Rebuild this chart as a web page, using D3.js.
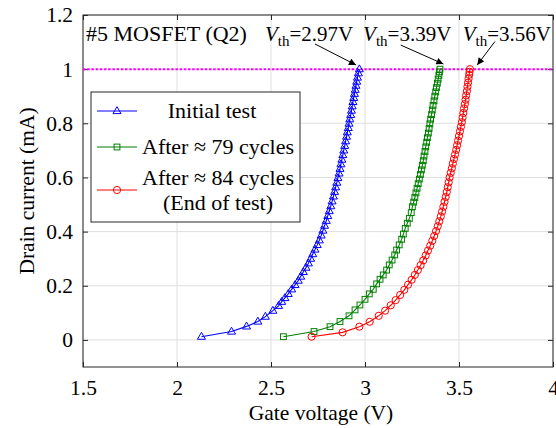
<!DOCTYPE html>
<html>
<head>
<meta charset="utf-8">
<script src="https://cdn.jsdelivr.net/npm/d3@7/dist/d3.min.js"></script>
<style>
  html, body { margin: 0; padding: 0; background: #fff; }
  svg { display: block; }
  text { font-family: "Liberation Serif", "Times New Roman", serif; fill: #000; }
</style>
</head>
<body>
<svg id="chart" width="556" height="428"></svg>
<script>
// ---------- DATA ----------
const xTicks = [1.5, 2, 2.5, 3, 3.5, 4];
const yTicks = [0, 0.2, 0.4, 0.6, 0.8, 1, 1.2];
const xTickLabels = ["1.5", "2", "2.5", "3", "3.5", "4"];
const yTickLabels = ["0", "0.2", "0.4", "0.6", "0.8", "1", "1.2"];

const seriesNames = ["Initial test", "After \u2248 79 cycles", "After \u2248 84 cycles"];
const seriesNote = "(End of test)";

// Initial test (blue triangles): gate voltage (V), drain current (mA)
const initialV = [2.13, 2.29, 2.37, 2.43, 2.47, 2.51, 2.54, 2.557, 2.574, 2.592,
  2.61, 2.628, 2.645, 2.658, 2.672, 2.686, 2.699, 2.711, 2.722, 2.734,
  2.746, 2.757, 2.767, 2.776, 2.785, 2.794, 2.802, 2.810, 2.818, 2.825,
  2.832, 2.838, 2.844, 2.850, 2.856, 2.862, 2.867, 2.872, 2.877, 2.882,
  2.887, 2.892, 2.897, 2.902, 2.906, 2.911, 2.915, 2.919, 2.924, 2.928,
  2.932, 2.936, 2.940, 2.944, 2.948, 2.952, 2.956, 2.960, 2.965, 2.970];
const initialI = [0.012, 0.031, 0.050, 0.068, 0.086, 0.108, 0.126, 0.141, 0.155, 0.170,
  0.187, 0.203, 0.219, 0.234, 0.251, 0.267, 0.283, 0.300, 0.317, 0.334,
  0.351, 0.368, 0.386, 0.404, 0.422, 0.440, 0.458, 0.476, 0.494, 0.512,
  0.530, 0.547, 0.564, 0.581, 0.598, 0.615, 0.632, 0.649, 0.666, 0.683,
  0.700, 0.717, 0.734, 0.751, 0.767, 0.783, 0.799, 0.815, 0.831, 0.847,
  0.863, 0.879, 0.894, 0.909, 0.924, 0.939, 0.954, 0.969, 0.985, 1.000];

// After ~79 cycles (green squares)
const after79V = [2.566, 2.729, 2.814, 2.867, 2.915, 2.947, 2.973, 3.000, 3.023, 3.044,
  3.062, 3.080, 3.097, 3.115, 3.129, 3.144, 3.158, 3.168, 3.182, 3.195,
  3.204, 3.214, 3.225, 3.236, 3.246, 3.252, 3.259, 3.265, 3.271, 3.277,
  3.283, 3.289, 3.295, 3.300, 3.305, 3.310, 3.314, 3.319, 3.323, 3.328,
  3.332, 3.337, 3.341, 3.345, 3.349, 3.354, 3.358, 3.362, 3.367, 3.371,
  3.376, 3.380, 3.385, 3.389, 3.393, 3.396, 3.399];
const after79I = [0.012, 0.031, 0.049, 0.068, 0.089, 0.111, 0.129, 0.150, 0.170, 0.187,
  0.207, 0.224, 0.240, 0.258, 0.277, 0.295, 0.314, 0.332, 0.351, 0.372,
  0.391, 0.412, 0.431, 0.449, 0.470, 0.492, 0.509, 0.526, 0.543, 0.560,
  0.577, 0.594, 0.611, 0.628, 0.645, 0.662, 0.679, 0.696, 0.713, 0.730,
  0.747, 0.764, 0.781, 0.798, 0.815, 0.832, 0.849, 0.866, 0.883, 0.900,
  0.916, 0.932, 0.948, 0.963, 0.977, 0.990, 1.000];

// After ~84 cycles, end of test (red circles)
const after84V = [2.716, 2.881, 2.970, 3.025, 3.073, 3.107, 3.137, 3.163, 3.187, 3.209,
  3.229, 3.248, 3.265, 3.281, 3.296, 3.310, 3.323, 3.335, 3.347, 3.358,
  3.368, 3.378, 3.387, 3.395, 3.403, 3.410, 3.417, 3.423, 3.429, 3.435,
  3.440, 3.445, 3.450, 3.456, 3.462, 3.467, 3.473, 3.479, 3.485, 3.490,
  3.495, 3.500, 3.505, 3.510, 3.515, 3.519, 3.523, 3.527, 3.531, 3.535,
  3.538, 3.542, 3.545, 3.548, 3.551, 3.554, 3.556, 3.558];
const after84I = [0.012, 0.028, 0.049, 0.067, 0.089, 0.108, 0.128, 0.147, 0.166, 0.185,
  0.204, 0.222, 0.240, 0.258, 0.276, 0.294, 0.312, 0.330, 0.348, 0.366,
  0.384, 0.402, 0.420, 0.438, 0.456, 0.474, 0.492, 0.510, 0.528, 0.546,
  0.564, 0.582, 0.600, 0.617, 0.634, 0.651, 0.668, 0.685, 0.702, 0.719,
  0.736, 0.753, 0.770, 0.787, 0.804, 0.821, 0.838, 0.855, 0.871, 0.887,
  0.903, 0.919, 0.935, 0.950, 0.965, 0.979, 0.990, 1.000];

// Threshold annotation values and reference current level
const vthValues = [2.97, 3.39, 3.56];
const refCurrent = 1.0;
// annotation anchors in data space: label position, arrow tail, arrow head
const vthLabelV = [2.468, 2.99, 3.52];
const vthLabelI = [1.104, 1.104, 1.104];
const arrowTailV = [2.734, 3.190, 3.691];
const arrowTailI = [1.093, 1.089, 1.102];
const arrowHeadV = [2.952, 3.417, 3.597];
const arrowHeadI = [1.0155, 1.019, 1.0155];

// ---------- LAYOUT ----------
const svg = d3.select("#chart");
const W = 556, H = 428;
const plot = { left: 83, right: 553, top: 15, bottom: 367 };

const x = d3.scaleLinear().domain([1.5, 4]).range([plot.left, plot.right]);
const y = d3.scaleLinear().domain([-0.1, 1.2]).range([plot.bottom, plot.top]);

const TICKFONT = 21.5;
const FONT = 22;
const colors = ["#0000ff", "#008000", "#ff0000"];

svg.append("rect").attr("width", W).attr("height", H).attr("fill", "#fff");

// grid
const grid = svg.append("g");
grid.selectAll(".gx").data(xTicks).join("line")
  .attr("x1", d => x(d)).attr("x2", d => x(d))
  .attr("y1", plot.top).attr("y2", plot.bottom)
  .attr("stroke", "#dfdfdf").attr("stroke-width", 1);
grid.selectAll(".gy").data(yTicks).join("line")
  .attr("x1", plot.left).attr("x2", plot.right)
  .attr("y1", d => y(d)).attr("y2", d => y(d))
  .attr("stroke", "#dfdfdf").attr("stroke-width", 1);

// axes
const axColor = "#262626";
function styleAxis(g) {
  g.select(".domain").remove();
  g.selectAll(".tick line").attr("stroke", axColor).attr("stroke-width", 1);
  g.selectAll(".tick text").attr("font-size", TICKFONT).attr("fill", "#000")
    .attr("font-family", "Liberation Serif, Times New Roman, serif");
}
const xAxis = svg.append("g").attr("transform", `translate(0,${plot.bottom})`)
  .call(d3.axisBottom(x).tickValues(xTicks).tickSizeInner(-5).tickSizeOuter(0).tickPadding(13)
    .tickFormat((d, i) => xTickLabels[i]));
styleAxis(xAxis);
const xAxisTop = svg.append("g").attr("transform", `translate(0,${plot.top})`)
  .call(d3.axisTop(x).tickValues(xTicks).tickSizeInner(-5).tickSizeOuter(0).tickFormat(""));
styleAxis(xAxisTop);
const yAxis = svg.append("g").attr("transform", `translate(${plot.left},0)`)
  .call(d3.axisLeft(y).tickValues(yTicks).tickSizeInner(-5).tickSizeOuter(0).tickPadding(10)
    .tickFormat((d, i) => yTickLabels[i]));
styleAxis(yAxis);
const yAxisRight = svg.append("g").attr("transform", `translate(${plot.right},0)`)
  .call(d3.axisRight(y).tickValues(yTicks).tickSizeInner(-5).tickSizeOuter(0).tickFormat(""));
styleAxis(yAxisRight);

// box
svg.append("rect")
  .attr("x", plot.left).attr("y", plot.top)
  .attr("width", plot.right - plot.left).attr("height", plot.bottom - plot.top)
  .attr("fill", "none").attr("stroke", axColor).attr("stroke-width", 1);

// axis labels
svg.append("text").attr("x", 321).attr("y", 420)
  .attr("text-anchor", "middle").attr("font-size", 21.5)
  .text("Gate voltage (V)");
svg.append("text").attr("transform", `translate(34,${(plot.top + plot.bottom) / 2}) rotate(-90)`)
  .attr("text-anchor", "middle").attr("font-size", 21.5)
  .text("Drain current (mA)");

// reference line at 1 mA
svg.append("line")
  .attr("x1", x(1.5)).attr("x2", x(4))
  .attr("y1", y(refCurrent)).attr("y2", y(refCurrent))
  .attr("stroke", "#ff00ff").attr("stroke-width", 2)
  .attr("stroke-dasharray", "2.5,1.7");

// markers
function drawMarker(g, type, color) {
  if (type === 0) {
    g.append("path").attr("d", "M0,-4.3L4,2.6L-4,2.6Z")
      .attr("fill", "none").attr("stroke", color).attr("stroke-width", 1);
  } else if (type === 1) {
    g.append("rect").attr("x", -2.9).attr("y", -2.9).attr("width", 5.8).attr("height", 5.8)
      .attr("fill", "none").attr("stroke", color).attr("stroke-width", 1);
  } else {
    g.append("circle").attr("r", 3.6).attr("fill", "none").attr("stroke", color).attr("stroke-width", 1);
  }
}

const series = [
  d3.zip(initialV, initialI),
  d3.zip(after79V, after79I),
  d3.zip(after84V, after84I)
];
const line = d3.line().x(d => x(d[0])).y(d => y(d[1]));

series.forEach((pts, si) => {
  const g = svg.append("g");
  g.append("path").attr("d", line(pts)).attr("fill", "none")
    .attr("stroke", colors[si]).attr("stroke-width", 1.1);
  g.selectAll("g.m").data(pts).join("g")
    .attr("transform", d => `translate(${x(d[0])},${y(d[1])})`)
    .each(function () { drawMarker(d3.select(this), si, colors[si]); });
});

// legend
const leg = svg.append("g");
leg.append("rect").attr("x", 91).attr("y", 92).attr("width", 209).attr("height", 130)
  .attr("fill", "#fff").attr("stroke", axColor).attr("stroke-width", 1);
const legLineY = [111, 147, 190];
const legTextX = [212, 218, 218];
const legTextY = [117.5, 153.5, 184.5];
legLineY.forEach((ly, i) => {
  leg.append("line").attr("x1", 97).attr("x2", 137).attr("y1", ly).attr("y2", ly)
    .attr("stroke", colors[i]).attr("stroke-width", 1.1);
  const mg = leg.append("g").attr("transform", `translate(117,${ly})`);
  drawMarker(mg, i, colors[i]);
  leg.append("text").attr("x", legTextX[i]).attr("y", legTextY[i]).attr("text-anchor", "middle")
    .attr("font-size", FONT).text(seriesNames[i]);
});
leg.append("text").attr("x", 218).attr("y", 210).attr("text-anchor", "middle")
  .attr("font-size", FONT).text(seriesNote);

// panel annotation
svg.append("text").attr("x", 86).attr("y", 41).attr("font-size", FONT).text("#5 MOSFET (Q2)");

// arrowhead marker
svg.append("defs").append("marker")
  .attr("id", "arr").attr("viewBox", "0 0 10 10").attr("refX", 10).attr("refY", 5)
  .attr("markerWidth", 8).attr("markerHeight", 7).attr("markerUnits", "userSpaceOnUse")
  .attr("orient", "auto")
  .append("path").attr("d", "M0,0L10,5L0,10Z").attr("fill", "#000");

vthValues.forEach((v, i) => {
  const t = svg.append("text").attr("x", x(vthLabelV[i])).attr("y", y(vthLabelI[i])).attr("font-size", 21);
  t.append("tspan").attr("font-style", "italic").text("V");
  t.append("tspan").attr("font-size", 15).attr("dy", 5).text("th");
  t.append("tspan").attr("dy", -5).text("=" + v.toFixed(2) + "V");
  svg.append("line")
    .attr("x1", x(arrowTailV[i])).attr("y1", y(arrowTailI[i]))
    .attr("x2", x(arrowHeadV[i])).attr("y2", y(arrowHeadI[i]))
    .attr("stroke", "#000").attr("stroke-width", 1).attr("marker-end", "url(#arr)");
});
</script>
</body>
</html>
